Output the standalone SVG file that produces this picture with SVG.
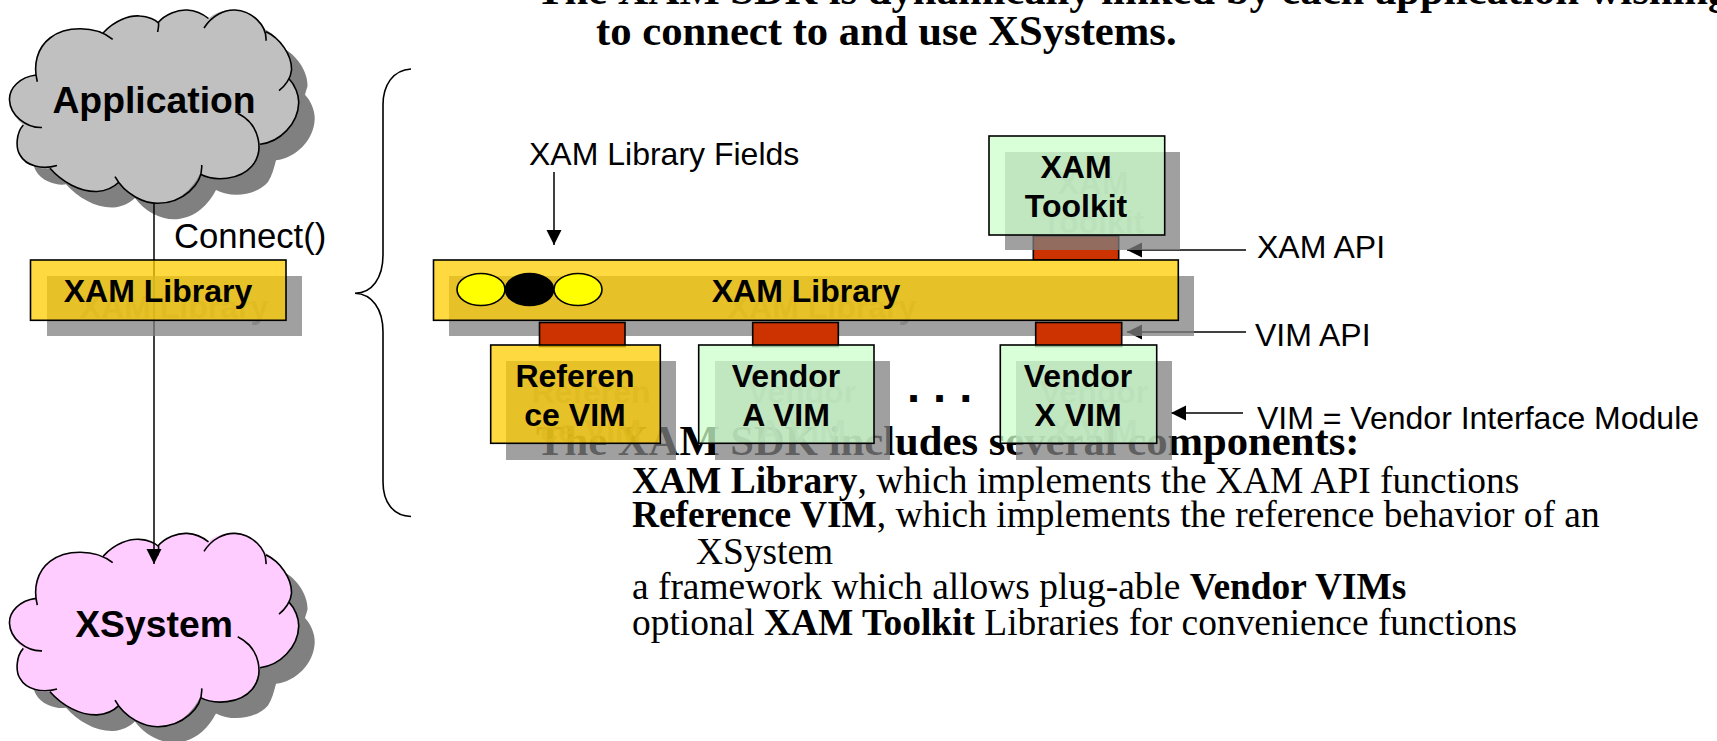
<svg xmlns="http://www.w3.org/2000/svg" xmlns:xlink="http://www.w3.org/1999/xlink" width="1717" height="741" viewBox="0 0 1717 741">
<style>
text{font-family:"Liberation Sans",Arial,sans-serif;fill:#000}
.b{font-weight:bold;font-size:32px;text-anchor:middle}
.c{font-weight:bold;font-size:37.33px;text-anchor:middle}
.l{font-size:32px}
.s{font-family:"Liberation Serif","Times New Roman",serif;font-size:37.42px}
.t{font-family:"Liberation Serif","Times New Roman",serif;font-size:42.67px;font-weight:bold}
text.st{fill:#808080;fill-opacity:.75}
.sh{fill:#808080;fill-opacity:.75}
.ye{fill:#FFCC00;fill-opacity:.75;stroke:#000;stroke-width:1.6}
.gr{fill:#CCFFCC;fill-opacity:.75;stroke:#000;stroke-width:1.6}
.re{fill:#CC3300;stroke:#000;stroke-width:1.6}
.ln{fill:none;stroke:#000;stroke-width:1.5}
.br{fill:none;stroke:#000;stroke-width:1.6}
.cl{fill:none;stroke:#000;stroke-width:1.6}
</style>
<defs>
<path id="cf" d="M9.5,100 C9,88 20,77 36,75 C33,60 38,46 50,38 C62,28 88,26 103.3,32.7 C115,20 130,15 140,16 C148,16.5 155,20 158,23 C165,14 178,9.5 187,10 C195,10.5 203,14 208.5,18.5 C215,12 225,9.5 235,10 C250,11 262,20 266,31.7 C280,38 292,55 291.5,70 C291,72 290,75 289,78.7 C295,85 299,95 298.7,103 C298,124 280,142 260,144.3 C258,152 256,160 252,166 C240,180 215,182 200,174 C190,193 175,203 158,203.3 C145,203.5 128,195 119,182 C114,187 106,191 97,191.5 C80,192 62,182 50,168.3 C42,170 26,166 20,155 C15.5,148 16,133 23.3,125 C15,118 10,110 9.5,100 Z"/>
<path id="co" d="M36,75 C20,77 9,88 9.5,100 C10,115 26,128 42,127.5 M23.3,125 C16,133 15.5,148 20,155 C26,166 42,170 57,165.5 M50,168.3 C62,182 80,192 97,191.5 C106,191 114,187 119,182 M115,176.7 C125,195 145,203.5 158,203.3 C182,203 203,185 201.7,165 M200,174 C215,182 240,180 252,166 C264,152 261,125 237.7,113.3 M260,144.3 C280,142 298,124 298.7,103 C299,95 295,85 289,78.7 M266,31.7 C280,38 292,55 291.5,70 C291,78 285,86 279,90.7 M204,28 C212,15 225,9.5 235,10 C252,11 267,25 266,40.7 M158,22.7 C165,14 178,9.5 187,10 C195,10.5 203,14 208.5,18.5 M103.3,32.7 C115,20 130,15 140,16 C148,16.5 156,20 158.5,23 C159,26 158,29 157.7,32 M37.3,81.7 C33,65 37,48 50,38 C65,26 95,25 112.7,39.3"/>
<marker id="ah" markerUnits="userSpaceOnUse" markerWidth="16" markerHeight="16" refX="15" refY="8" orient="auto"><path d="M0,0.5 L15,8 L0,15.5 Z" fill="#000"/></marker>
</defs>

<text class="t" x="536" y="4">The XAM SDK is dynamically linked by each application wishing</text>
<text class="t" x="596" y="45">to connect to and use XSystems.</text>
<text class="t" x="536" y="455">The XAM SDK includes several components:</text>
<text class="s" x="632" y="492.5"><tspan font-weight="bold">XAM Library</tspan>, which implements the XAM API functions</text>
<text class="s" x="632" y="527"><tspan font-weight="bold">Reference VIM</tspan>, which implements the reference behavior of an</text>
<text class="s" x="696" y="564">XSystem</text>
<text class="s" x="632" y="599">a framework which allows plug-able <tspan font-weight="bold">Vendor VIMs</tspan></text>
<text class="s" x="632" y="634.5">optional <tspan font-weight="bold">XAM Toolkit</tspan> Libraries for convenience functions</text>

<g id="application-cloud">
<use xlink:href="#cf" transform="translate(16,16)" fill="#808080"/>
<use xlink:href="#cf" fill="#C0C0C0"/>
<use xlink:href="#co" class="cl"/>
<text class="c" x="154" y="113">Application</text>
</g>
<g id="xsystem-cloud">
<use xlink:href="#cf" transform="translate(16,539.4)" fill="#808080"/>
<use xlink:href="#cf" transform="translate(0,523.4)" fill="#FFCCFF"/>
<use xlink:href="#co" transform="translate(0,523.4)" class="cl"/>
<text class="c" x="154" y="637">XSystem</text>
</g>

<g id="connectors">
<path class="ln" d="M154,203 V564" marker-end="url(#ah)"/>
<path class="ln" d="M554,172 V245" marker-end="url(#ah)"/>
<path class="ln" d="M1246,250 H1127" marker-end="url(#ah)"/>
<path class="ln" d="M1246,332 H1127" marker-end="url(#ah)"/>
<path class="ln" d="M1243,413 H1171" marker-end="url(#ah)"/>
</g>

<text x="174" y="248" style="font-size:34.7px">Connect()</text>

<g id="xam-library-left">
<rect class="sh" x="47" y="276" width="255" height="60"/>
<text class="b st" x="174" y="318">XAM Library</text>
<rect class="ye" x="30.5" y="260" width="255.5" height="60.3"/>
<text class="b" x="158" y="302">XAM Library</text>
</g>

<path class="br" id="brace" d="M411,69 C393,70 383,85 383,105 L383,255 C383,278 372,293 355,293.3 C372,294 383,309 383,332 L383,482 C383,502 393,516 411,516.5"/>

<text class="l" x="529" y="165">XAM Library Fields</text>

<rect id="xam-api-port" class="re" x="1033.3" y="236" width="85.4" height="24"/>

<g id="xam-library-bar">
<rect class="sh" x="449" y="276" width="745" height="60"/>
<text class="b st" x="822" y="318">XAM Library</text>
<rect class="ye" x="433.5" y="260" width="744.8" height="60.3"/>
<ellipse cx="481" cy="289.5" rx="24" ry="16" fill="#FFFF00" stroke="#000" stroke-width="1.6"/>
<ellipse cx="529.5" cy="289.5" rx="24" ry="16" fill="#000" stroke="#000" stroke-width="1.6"/>
<ellipse cx="578" cy="289.5" rx="24" ry="16" fill="#FFFF00" stroke="#000" stroke-width="1.6"/>
<text class="b" x="806" y="302">XAM Library</text>
</g>

<g id="vim-api-ports">
<rect class="re" x="539.5" y="322.5" width="85.5" height="24"/>
<rect class="re" x="752.7" y="322.5" width="85.6" height="24"/>
<rect class="re" x="1035.7" y="322.5" width="86" height="24"/>
</g>

<g id="xam-toolkit">
<rect class="sh" x="1005" y="152" width="175" height="98"/>
<text class="b st" x="1093" y="194">XAM</text>
<text class="b st" x="1093" y="233">Toolkit</text>
<rect class="gr" x="989" y="136" width="175.7" height="99"/>
<text class="b" x="1076" y="178">XAM</text>
<text class="b" x="1076" y="217">Toolkit</text>
</g>

<g id="reference-vim">
<rect class="sh" x="506" y="361" width="170" height="99"/>
<text class="b st" x="591" y="403">Referen</text>
<text class="b st" x="591" y="442">ce VIM</text>
<rect class="ye" x="490.7" y="345" width="169.6" height="98.3"/>
<text class="b" x="575" y="387">Referen</text>
<text class="b" x="575" y="426">ce VIM</text>
</g>
<g id="vendor-a-vim">
<rect class="sh" x="715" y="361" width="175" height="99"/>
<text class="b st" x="802" y="403">Vendor</text>
<text class="b st" x="802" y="442">A VIM</text>
<rect class="gr" x="698.7" y="345" width="175.3" height="98.3"/>
<text class="b" x="786" y="387">Vendor</text>
<text class="b" x="786" y="426">A VIM</text>
</g>
<g id="vendor-x-vim">
<rect class="sh" x="1016" y="361" width="156" height="99"/>
<text class="b st" x="1094" y="403">Vendor</text>
<text class="b st" x="1094" y="442">X VIM</text>
<rect class="gr" x="1000.3" y="345" width="156.4" height="98.3"/>
<text class="b" x="1078" y="387">Vendor</text>
<text class="b" x="1078" y="426">X VIM</text>
</g>

<text x="907" y="402" font-weight="bold" style="font-size:47px">. . .</text>
<text class="l" x="1257" y="258">XAM API</text>
<text class="l" x="1255" y="346">VIM API</text>
<text class="l" x="1257" y="429">VIM = Vendor Interface Module</text>
</svg>
